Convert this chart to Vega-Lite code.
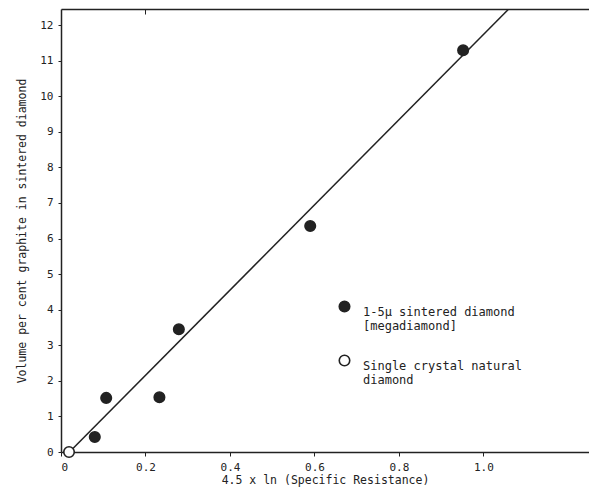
{
  "$schema": "https://vega.github.io/schema/vega-lite/v6.json",
  "width": 528,
  "height": 443,
  "autosize": {"type": "none"},
  "padding": {"left": 61, "top": 9, "right": 0, "bottom": 35},
  "background": "white",
  "config": {
    "view": {"stroke": null},
    "font": "DejaVu Sans Mono",
    "axis": {"domainColor": "#222", "domainWidth": 1.5, "tickColor": "#222", "labelColor": "#222", "titleColor": "#222", "grid": false, "labelFont": "DejaVu Sans Mono", "titleFont": "DejaVu Sans Mono", "titleFontWeight": "normal"}
  },
  "datasets": {
    "pts": [
      {"x": 0.08, "y": 0.42, "kind": "1-5µ sintered diamond|[megadiamond]"},
      {"x": 0.107, "y": 1.52, "kind": "1-5µ sintered diamond|[megadiamond]"},
      {"x": 0.233, "y": 1.54, "kind": "1-5µ sintered diamond|[megadiamond]"},
      {"x": 0.279, "y": 3.45, "kind": "1-5µ sintered diamond|[megadiamond]"},
      {"x": 0.59, "y": 6.35, "kind": "1-5µ sintered diamond|[megadiamond]"},
      {"x": 0.952, "y": 11.29, "kind": "1-5µ sintered diamond|[megadiamond]"},
      {"x": 0.019, "y": 0, "kind": "Single crystal natural|diamond"}
    ],
    "fit": [
      {"x": 0.02, "y": 0},
      {"x": 1.06, "y": 12.45}
    ]
  },
  "layer": [
    {
      "data": {"name": "fit"},
      "mark": {"type": "line", "color": "#222", "strokeWidth": 1.5, "clip": true},
      "encoding": {
        "x": {"field": "x", "type": "quantitative", "scale": {"domain": [0, 1.25], "nice": false, "zero": false},
          "axis": {"orient": "top", "labels": false, "title": null, "values": [0.2], "tickSize": -5, "domainWidth": 1.5}},
        "y": {"field": "y", "type": "quantitative", "scale": {"domain": [0, 12.45], "nice": false},
          "axis": {"values": [0,1,2,3,4,5,6,7,8,9,10,11,12], "labelOverlap": false, "labelFontSize": 11, "tickSize": 3, "labelPadding": 5, "title": "Volume per cent graphite in sintered diamond", "titleFontSize": 11.5, "titlePadding": 12}}
      }
    },
    {
      "data": {"name": "pts"},
      "mark": {"type": "point", "shape": "circle", "filled": true, "size": 110, "stroke": "#222", "strokeWidth": 1.6, "opacity": 1, "clip": false},
      "encoding": {
        "x": {"field": "x", "type": "quantitative", "scale": {"domain": [0, 1.25], "nice": false, "zero": false},
          "axis": {"orient": "bottom", "values": [0, 0.2, 0.4, 0.6, 0.8, 1.0], "labelExpr": "datum.value == 0 ? '0' : format(datum.value, '.1f')", "labelFontSize": 11, "tickSize": 4, "labelPadding": 5, "title": "4.5 x ln (Specific Resistance)", "titleFontSize": 11.5, "titlePadding": 2}},
        "y": {"field": "y", "type": "quantitative", "scale": {"domain": [0, 12.45], "nice": false},
          "axis": {"values": [0,1,2,3,4,5,6,7,8,9,10,11,12], "labelOverlap": false, "labelFontSize": 11, "tickSize": 3, "labelPadding": 5, "title": "Volume per cent graphite in sintered diamond", "titleFontSize": 11.5, "titlePadding": 12}},
        "fill": {"field": "kind", "type": "nominal",
          "scale": {"domain": ["1-5µ sintered diamond|[megadiamond]", "Single crystal natural|diamond"], "range": ["#222", "white"]},
          "legend": {"title": null, "orient": "none", "legendX": 277, "legendY": 291, "symbolType": "circle", "symbolSize": 110, "symbolStrokeColor": "#222", "symbolStrokeWidth": 1.6, "labelFont": "DejaVu Sans Mono", "labelFontSize": 12, "labelColor": "#222", "labelOffset": 12, "rowPadding": 20, "labelExpr": "split(datum.label, '|')", "labelBaseline": "top"}}
      }
    }
  ],
  "resolve": {"axis": {"x": "independent"}}
}
